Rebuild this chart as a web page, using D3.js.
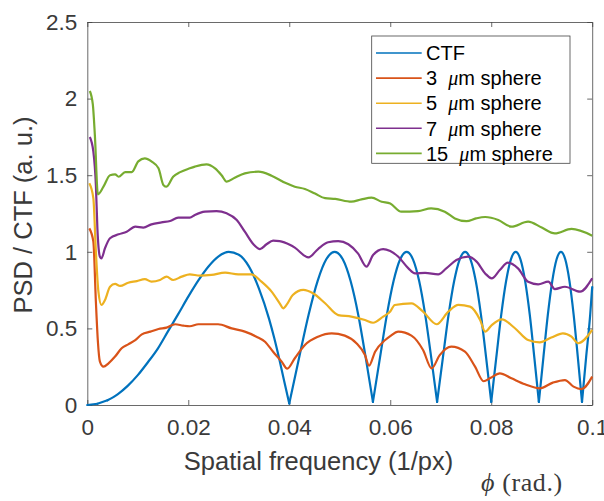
<!doctype html>
<html>
<head>
<meta charset="utf-8">
<style>
  body { margin: 0; background: #fff; }
  svg { font-family: "Liberation Sans", Arial, Helvetica, sans-serif; }
  .tick text { fill: #3a3a3a; }
</style>
<script src="https://d3js.org/d3.v7.min.js"></script>
</head>
<body>
<svg width="604" height="501" id="chart"></svg>
<script>
// tick values
var freqTicks = [0, 0.02, 0.04, 0.06, 0.08, 0.1];
var psdTicks = [0, 0.5, 1, 1.5, 2, 2.5];

// legend labels (number before the micro-metre sign)
var legendNames = ["CTF", "3", "5", "7", "15"];

// CTF: [spatial frequency, value]
var ctf = [
  [0, 0], [0.002, 0.008], [0.004, 0.031], [0.006, 0.07], [0.008, 0.125], [0.010, 0.195],
  [0.012, 0.279], [0.014, 0.37], [0.016, 0.482], [0.018, 0.593], [0.020, 0.707],
  [0.022, 0.813], [0.024, 0.904], [0.026, 0.97], [0.028, 0.999], [0.030, 0.981],
  [0.032, 0.905], [0.034, 0.76], [0.036, 0.562], [0.037, 0.44], [0.038, 0.303],
  [0.039, 0.155], [0.040, 0.01],
  [0.04195, 0.309], [0.04382, 0.588], [0.04561, 0.809], [0.04733, 0.951], [0.04899, 1],
  [0.0506, 0.951], [0.05215, 0.809], [0.05367, 0.588], [0.05514, 0.309], [0.05657, 0.02],
  [0.05797, 0.309], [0.05933, 0.588], [0.06066, 0.809], [0.06197, 0.951], [0.06325, 1],
  [0.0645, 0.951], [0.06573, 0.809], [0.06693, 0.588], [0.06812, 0.309], [0.06928, 0.02],
  [0.07043, 0.309], [0.07155, 0.588], [0.07266, 0.809], [0.07376, 0.951], [0.07483, 1],
  [0.07589, 0.951], [0.07694, 0.809], [0.07797, 0.588], [0.07899, 0.309], [0.08, 0.02],
  [0.081, 0.309], [0.08198, 0.588], [0.08295, 0.809], [0.0839, 0.951], [0.08485, 1],
  [0.08579, 0.951], [0.08672, 0.809], [0.08764, 0.588], [0.08854, 0.309], [0.08944, 0.02],
  [0.09033, 0.309], [0.09121, 0.588], [0.09209, 0.809], [0.09295, 0.951], [0.09381, 1],
  [0.09466, 0.951], [0.0955, 0.809], [0.09633, 0.588], [0.09716, 0.309], [0.09798, 0.02],
  [0.09879, 0.309], [0.0996, 0.588], [0.1, 0.77]
];

// 3 um sphere
var sphere3 = [
  [0.0004, 1.153], [0.0012, 1.066], [0.0017, 0.674], [0.0021, 0.413], [0.0025, 0.283],
  [0.0032, 0.25], [0.0042, 0.272], [0.0055, 0.316], [0.0068, 0.37], [0.0081, 0.396],
  [0.0095, 0.424], [0.0108, 0.461], [0.0125, 0.479], [0.0141, 0.496], [0.0157, 0.505],
  [0.0174, 0.527], [0.0190, 0.518], [0.0203, 0.514], [0.0220, 0.527], [0.0259, 0.527],
  [0.0286, 0.50], [0.0312, 0.479], [0.0335, 0.446], [0.0352, 0.413], [0.0368, 0.348],
  [0.0385, 0.283], [0.0396, 0.237], [0.0411, 0.305], [0.0431, 0.392], [0.0457, 0.446],
  [0.0484, 0.468], [0.0510, 0.453], [0.0533, 0.403], [0.0550, 0.326], [0.0558, 0.257],
  [0.0570, 0.348], [0.0590, 0.424], [0.0600, 0.45], [0.0616, 0.479], [0.0642, 0.453],
  [0.0665, 0.359], [0.0682, 0.239], [0.0698, 0.326], [0.0721, 0.381], [0.0748, 0.348],
  [0.0768, 0.25], [0.0785, 0.155], [0.0798, 0.176], [0.0817, 0.207], [0.0840, 0.174],
  [0.0867, 0.135], [0.0896, 0.109], [0.0922, 0.146], [0.0946, 0.163], [0.0963, 0.12],
  [0.0979, 0.104], [0.1, 0.185]
];

// 5 um sphere
var sphere5 = [
  [0.0004, 1.447], [0.0012, 1.349], [0.0017, 1.001], [0.0022, 0.74], [0.0028, 0.653],
  [0.0035, 0.685], [0.0045, 0.772], [0.0055, 0.79], [0.0065, 0.777], [0.0081, 0.798],
  [0.0098, 0.809], [0.0114, 0.822], [0.0127, 0.805], [0.0144, 0.816], [0.0157, 0.838],
  [0.0170, 0.816], [0.0187, 0.838], [0.0203, 0.853], [0.0223, 0.844], [0.0246, 0.849],
  [0.0273, 0.864], [0.0299, 0.853], [0.0325, 0.853], [0.0345, 0.805], [0.0365, 0.74],
  [0.0381, 0.664], [0.0388, 0.631], [0.0396, 0.66], [0.0407, 0.718], [0.0428, 0.751],
  [0.0447, 0.729], [0.0471, 0.664], [0.0497, 0.587], [0.0523, 0.577], [0.0550, 0.555],
  [0.0566, 0.537], [0.0586, 0.577], [0.0600, 0.61], [0.0609, 0.653], [0.0642, 0.664],
  [0.0665, 0.609], [0.0692, 0.527], [0.0715, 0.609], [0.0735, 0.653], [0.0758, 0.642],
  [0.0778, 0.555], [0.0788, 0.479], [0.0801, 0.522], [0.0821, 0.559], [0.0847, 0.501],
  [0.0873, 0.424], [0.0896, 0.409], [0.0919, 0.44], [0.0942, 0.468], [0.0959, 0.446],
  [0.0972, 0.403], [0.1, 0.49]
];

// 7 um sphere
var sphere7 = [
  [0.0005, 1.75], [0.0012, 1.654], [0.0017, 1.436], [0.0020, 1.153], [0.0025, 0.968],
  [0.0028, 0.957], [0.0035, 1.023], [0.0045, 1.088], [0.0062, 1.114], [0.0078, 1.131],
  [0.0095, 1.164], [0.0111, 1.158], [0.0127, 1.179], [0.0147, 1.192], [0.0164, 1.201],
  [0.0180, 1.223], [0.0203, 1.223], [0.0213, 1.24], [0.0233, 1.262], [0.0256, 1.266],
  [0.0276, 1.251], [0.0296, 1.208], [0.0312, 1.131], [0.0329, 1.049], [0.0342, 1.018],
  [0.0355, 1.049], [0.0368, 1.073], [0.0381, 1.07], [0.0402, 1.044], [0.0411, 1.027],
  [0.0438, 0.964], [0.0457, 1.018], [0.0477, 1.062], [0.0497, 1.07], [0.0517, 1.049],
  [0.0536, 0.99], [0.0553, 0.903], [0.0566, 0.979], [0.0586, 1.018], [0.0600, 1.005],
  [0.0616, 0.968], [0.0636, 0.892], [0.0649, 0.859], [0.0669, 0.863], [0.0695, 0.853],
  [0.0711, 0.892], [0.0731, 0.946], [0.0754, 0.968], [0.0771, 0.936], [0.0788, 0.859],
  [0.0801, 0.827], [0.0817, 0.881], [0.0833, 0.929], [0.0853, 0.892], [0.0873, 0.805],
  [0.0893, 0.788], [0.0913, 0.805], [0.0926, 0.757], [0.0946, 0.772], [0.0976, 0.74],
  [0.1, 0.827]
];

// 15 um sphere
var sphere15 = [
  [0.0005, 2.05], [0.0011, 1.96], [0.0015, 1.76], [0.0021, 1.375], [0.0032, 1.425],
  [0.0045, 1.50], [0.0055, 1.505], [0.0062, 1.49], [0.0075, 1.52], [0.0088, 1.52],
  [0.0101, 1.59], [0.0114, 1.61], [0.0127, 1.59], [0.0141, 1.545], [0.0151, 1.435],
  [0.0157, 1.425], [0.0170, 1.49], [0.0184, 1.52], [0.0203, 1.545], [0.0213, 1.556],
  [0.0236, 1.571], [0.0253, 1.545], [0.0266, 1.50], [0.0276, 1.458], [0.0292, 1.484],
  [0.0312, 1.512], [0.0339, 1.523], [0.0365, 1.497], [0.0392, 1.45], [0.0411, 1.425],
  [0.0431, 1.41], [0.0451, 1.38], [0.0471, 1.35], [0.0491, 1.345], [0.0523, 1.327],
  [0.0543, 1.342], [0.0563, 1.353], [0.0583, 1.327], [0.0600, 1.315], [0.0622, 1.262],
  [0.0655, 1.266], [0.0681, 1.284], [0.0708, 1.262], [0.0728, 1.218], [0.0751, 1.20],
  [0.0770, 1.218], [0.0788, 1.227], [0.0814, 1.208], [0.0840, 1.164], [0.0873, 1.197],
  [0.0900, 1.158], [0.0926, 1.12], [0.0959, 1.149], [0.1, 1.105]
];

var colors = ["#0072BD", "#D95319", "#EDB120", "#7E2F8E", "#77AC30"];

var svg = d3.select("#chart"),
    plotLeft = 87.3, plotRight = 592.2, plotTop = 22, plotBottom = 405;

var x = d3.scaleLinear().domain([0, 0.1]).range([plotLeft, plotRight]),
    y = d3.scaleLinear().domain([0, 2.5]).range([plotBottom, plotTop]);

svg.append("rect").attr("width", 604).attr("height", 501).attr("fill", "#fff");

// axes, MATLAB style: box on, ticks pointing in
function styleAxis(g) {
  g.select(".domain").attr("stroke", "#444").attr("stroke-width", 0.8);
  g.selectAll(".tick line").attr("stroke", "#444").attr("stroke-width", 0.8);
  g.selectAll(".tick text").attr("font-size", "22.5px")
   .attr("font-family", "'Liberation Sans', Arial, sans-serif");
}

svg.append("g")
   .attr("transform", "translate(0," + plotBottom + ")")
   .call(d3.axisBottom(x).tickValues(freqTicks).tickFormat(String)
         .tickSizeInner(-5).tickSizeOuter(0).tickPadding(14))
   .call(styleAxis);

svg.append("g")
   .attr("transform", "translate(0," + plotTop + ")")
   .call(d3.axisTop(x).tickValues(freqTicks).tickFormat("")
         .tickSizeInner(-5).tickSizeOuter(0))
   .call(styleAxis);

svg.append("g")
   .attr("transform", "translate(" + plotLeft + ",0)")
   .call(d3.axisLeft(y).tickValues(psdTicks).tickFormat(String)
         .tickSizeInner(-5).tickSizeOuter(0).tickPadding(10))
   .call(styleAxis);

svg.append("g")
   .attr("transform", "translate(" + plotRight + ",0)")
   .call(d3.axisRight(y).tickValues(psdTicks).tickFormat("")
         .tickSizeInner(-5).tickSizeOuter(0))
   .call(styleAxis);

// curves
var line = d3.line()
  .x(function(d) { return x(d[0]); })
  .y(function(d) { return y(d[1]); })
  .curve(d3.curveMonotoneX);

// CTF: split into arches at the zeros so the dips stay sharp
var arches = [], cur = [];
ctf.forEach(function(d, i) {
  cur.push(d);
  if (i > 0 && i < ctf.length - 1 && d[1] < 0.05) {
    arches.push(cur);
    cur = [d];
  }
});
arches.push(cur);

var plot = svg.append("g");

arches.forEach(function(a) {
  plot.append("path")
      .datum(a)
      .attr("d", line)
      .attr("fill", "none")
      .attr("stroke", colors[0])
      .attr("stroke-width", 2.2)
      .attr("stroke-linecap", "round")
      .attr("stroke-linejoin", "round");
});

[sphere3, sphere5, sphere7, sphere15].forEach(function(s, i) {
  plot.append("path")
      .datum(s)
      .attr("d", line)
      .attr("fill", "none")
      .attr("stroke", colors[i + 1])
      .attr("stroke-width", 2.2)
      .attr("stroke-linejoin", "round");
});

// axis labels
svg.append("text")
   .attr("x", 318.5)
   .attr("y", 470)
   .attr("text-anchor", "middle")
   .attr("font-size", "25.5px")
   .attr("fill", "#3a3a3a")
   .text("Spatial frequency (1/px)");

svg.append("text")
   .attr("transform", "translate(31.5,215) rotate(-90)")
   .attr("text-anchor", "middle")
   .attr("font-size", "25.5px")
   .attr("fill", "#3a3a3a")
   .text("PSD / CTF (a. u.)");

var phi = svg.append("text")
   .attr("x", 481)
   .attr("y", 491)
   .attr("font-family", "'Liberation Serif', 'DejaVu Serif', serif")
   .attr("font-size", "26px")
   .attr("letter-spacing", "0.6px")
   .attr("fill", "#3a3a3a");
phi.append("tspan").attr("font-style", "italic").text("\u03D5");
phi.append("tspan").text(" (rad.)");

// legend
var lg = svg.append("g");
lg.append("rect")
  .attr("x", 371.7).attr("y", 36)
  .attr("width", 198.3).attr("height", 127.3)
  .attr("fill", "#fff")
  .attr("stroke", "#444")
  .attr("stroke-width", 0.8);

legendNames.forEach(function(name, i) {
  var ry = 53 + i * 25.1;
  lg.append("line")
    .attr("x1", 376).attr("x2", 421.7)
    .attr("y1", ry).attr("y2", ry)
    .attr("stroke", colors[i])
    .attr("stroke-width", 1.6);
  var t = lg.append("text")
    .attr("x", 426).attr("y", ry)
    .attr("dy", "0.36em")
    .attr("font-size", "20px")
    .attr("fill", "#000")
    .style("white-space", "pre");
  if (i === 0) {
    t.text(name);
  } else {
    t.append("tspan").text(name + "  ");
    t.append("tspan")
     .attr("font-family", "'Liberation Serif', 'DejaVu Serif', serif")
     .attr("font-style", "italic")
     .text("\u03BC");
    t.append("tspan").text("m sphere");
  }
});
</script>
</body>
</html>
